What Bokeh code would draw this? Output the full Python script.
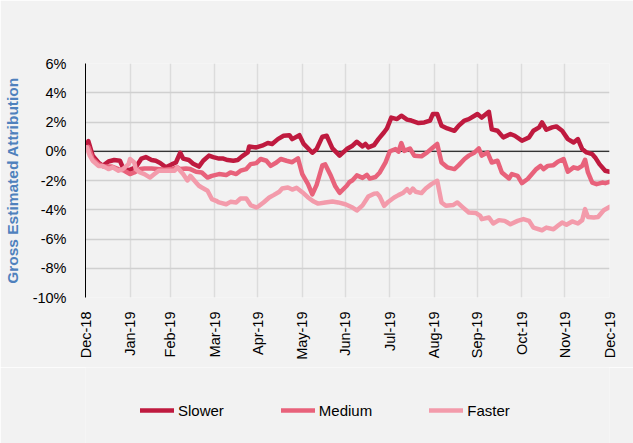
import pandas as pd
from bokeh.plotting import figure
from bokeh.layouts import column
from bokeh.models import (Range1d, FixedTicker, DatetimeTickFormatter,
                          PrintfTickFormatter, Span, Legend, LegendItem)
from bokeh.embed import file_html
from bokeh.resources import INLINE

# ---- data: gross estimated attribution (%) by speed bucket ----
SERIES_NAMES = ["Slower", "Medium", "Faster"]

slower_dates = [
    "2018-12-31", "2019-01-02", "2019-01-05", "2019-01-09", "2019-01-12", "2019-01-16",
    "2019-01-20", "2019-01-24", "2019-01-26", "2019-01-30", "2019-02-04", "2019-02-08",
    "2019-02-11", "2019-02-15", "2019-02-18", "2019-02-21", "2019-02-25", "2019-03-01",
    "2019-03-04", "2019-03-07", "2019-03-09", "2019-03-13", "2019-03-16", "2019-03-20",
    "2019-03-23", "2019-03-27", "2019-03-30", "2019-04-03", "2019-04-06", "2019-04-09",
    "2019-04-13", "2019-04-16", "2019-04-19", "2019-04-23", "2019-04-24", "2019-04-29",
    "2019-05-03", "2019-05-07", "2019-05-10", "2019-05-14", "2019-05-18", "2019-05-22",
    "2019-05-24", "2019-05-29", "2019-06-01", "2019-06-07", "2019-06-10", "2019-06-14",
    "2019-06-17", "2019-06-21", "2019-06-26", "2019-07-01", "2019-07-05", "2019-07-08",
    "2019-07-12", "2019-07-14", "2019-07-16", "2019-07-20", "2019-07-23", "2019-07-27",
    "2019-07-29", "2019-08-01", "2019-08-05", "2019-08-08", "2019-08-12", "2019-08-15",
    "2019-08-20", "2019-08-24", "2019-08-28", "2019-08-30", "2019-09-02", "2019-09-05",
    "2019-09-09", "2019-09-14", "2019-09-17", "2019-09-21", "2019-09-24", "2019-09-28",
    "2019-09-30", "2019-10-03", "2019-10-08", "2019-10-10", "2019-10-14", "2019-10-18",
    "2019-10-23", "2019-10-26", "2019-10-31", "2019-11-05", "2019-11-08", "2019-11-12",
    "2019-11-14", "2019-11-17", "2019-11-21", "2019-11-24", "2019-11-28", "2019-12-02",
    "2019-12-06", "2019-12-09", "2019-12-12", "2019-12-15", "2019-12-19", "2019-12-21",
    "2019-12-24", "2019-12-28", "2019-12-31",
]
slower_vals = [
    0.15, 0.70, -0.30, -0.77, -1.00, -0.70,
    -0.60, -0.65, -1.10, -1.30, -1.10, -0.50,
    -0.40, -0.60, -0.65, -0.80, -1.10, -0.90,
    -0.77, -0.10, -0.50, -0.60, -0.85, -1.05,
    -0.65, -0.30, -0.40, -0.50, -0.50, -0.60,
    -0.65, -0.60, -0.35, -0.08, 0.33, 0.26,
    0.38, 0.56, 0.50, 0.83, 1.06, 1.10,
    0.83, 1.10, 0.50, -0.10, 0.15, 1.00,
    1.06, 0.20, -0.30, 0.15, 0.38, 0.65,
    0.33, 0.50, 0.26, 0.42, 0.83, 1.30,
    1.56, 2.30, 2.20, 2.43, 2.16, 2.10,
    1.93, 1.97, 2.10, 2.55, 2.55, 1.75,
    1.56, 1.40, 1.75, 2.10, 2.20, 2.43,
    2.55, 2.30, 2.70, 1.50, 1.40, 0.95,
    1.18, 1.06, 0.72, 0.95, 1.40, 1.63,
    1.97, 1.47, 1.63, 1.70, 1.40, 0.83,
    0.60, 0.83, 0.15, -0.08, -0.20, -0.42,
    -0.88, -1.33, -1.40,
]

medium_dates = [
    "2018-12-31", "2019-01-02", "2019-01-05", "2019-01-09", "2019-01-13", "2019-01-18",
    "2019-01-23", "2019-01-27", "2019-01-31", "2019-02-03", "2019-02-07", "2019-02-10",
    "2019-02-15", "2019-02-19", "2019-02-24", "2019-03-01", "2019-03-05", "2019-03-07",
    "2019-03-11", "2019-03-14", "2019-03-18", "2019-03-22", "2019-03-26", "2019-03-29",
    "2019-04-03", "2019-04-08", "2019-04-11", "2019-04-15", "2019-04-18", "2019-04-22",
    "2019-04-25", "2019-04-29", "2019-05-02", "2019-05-06", "2019-05-09", "2019-05-13",
    "2019-05-16", "2019-05-20", "2019-05-24", "2019-05-28", "2019-05-31", "2019-06-04",
    "2019-06-07", "2019-06-10", "2019-06-14", "2019-06-16", "2019-06-20", "2019-06-23",
    "2019-06-26", "2019-07-01", "2019-07-03", "2019-07-05", "2019-07-08", "2019-07-12",
    "2019-07-15", "2019-07-17", "2019-07-21", "2019-07-24", "2019-07-28", "2019-07-31",
    "2019-08-04", "2019-08-06", "2019-08-08", "2019-08-10", "2019-08-14", "2019-08-17",
    "2019-08-22", "2019-08-26", "2019-08-30", "2019-09-02", "2019-09-05", "2019-09-09",
    "2019-09-14", "2019-09-17", "2019-09-21", "2019-09-24", "2019-09-28", "2019-10-01",
    "2019-10-03", "2019-10-07", "2019-10-10", "2019-10-14", "2019-10-17", "2019-10-22",
    "2019-10-24", "2019-10-28", "2019-10-31", "2019-11-04", "2019-11-07", "2019-11-10",
    "2019-11-13", "2019-11-15", "2019-11-18", "2019-11-22", "2019-11-25", "2019-11-29",
    "2019-12-02", "2019-12-06", "2019-12-09", "2019-12-12", "2019-12-14", "2019-12-16",
    "2019-12-19", "2019-12-22", "2019-12-26", "2019-12-28", "2019-12-31",
]
medium_vals = [
    0.10, 0.30, -0.53, -0.88, -1.04, -1.04,
    -1.22, -1.33, -1.56, -1.45, -1.22, -1.18,
    -1.18, -1.22, -1.27, -1.22, -1.10, -1.22,
    -1.18, -1.22, -1.40, -1.45, -1.80, -1.68,
    -1.56, -1.63, -1.45, -1.56, -1.33, -1.22,
    -0.88, -0.81, -0.53, -0.65, -1.00, -0.77,
    -0.53, -0.65, -0.75, -0.48, -1.56, -2.25,
    -2.95, -2.30, -0.97, -0.90, -1.70, -2.40,
    -2.84, -2.36, -2.10, -1.98, -1.65, -1.82,
    -1.62, -1.87, -1.76, -1.45, -0.76, 0.00,
    0.15, -0.03, 0.56, 0.03, 0.19, -0.30,
    -0.35, -0.08, 0.26, 0.50, -0.77, -1.10,
    -1.22, -0.95, -0.53, -0.30, -0.08, 0.19,
    -0.30, -0.08, -0.77, -0.65, -1.45, -1.86,
    -1.56, -1.68, -2.18, -1.90, -1.56, -1.22,
    -1.00, -1.22, -1.00, -0.95, -0.72, -0.53,
    -1.40, -1.10, -1.18, -1.00, -0.58, -1.45,
    -2.14, -2.25, -2.14, -2.18, -2.09,
]

faster_dates = [
    "2018-12-31", "2019-01-01", "2019-01-03", "2019-01-05", "2019-01-09", "2019-01-12",
    "2019-01-16", "2019-01-19", "2019-01-23", "2019-01-26", "2019-01-30", "2019-01-31",
    "2019-02-03", "2019-02-04", "2019-02-07", "2019-02-10", "2019-02-14", "2019-02-17",
    "2019-02-20", "2019-02-24", "2019-02-27", "2019-03-03", "2019-03-05", "2019-03-07",
    "2019-03-09", "2019-03-12", "2019-03-14", "2019-03-18", "2019-03-20", "2019-03-22",
    "2019-03-26", "2019-03-29", "2019-04-01", "2019-04-03", "2019-04-08", "2019-04-11",
    "2019-04-15", "2019-04-18", "2019-04-22", "2019-04-25", "2019-04-29", "2019-05-01",
    "2019-05-04", "2019-05-08", "2019-05-11", "2019-05-15", "2019-05-17", "2019-05-21",
    "2019-05-24", "2019-05-27", "2019-05-31", "2019-06-04", "2019-06-08", "2019-06-11",
    "2019-06-16", "2019-06-21", "2019-06-25", "2019-06-30", "2019-07-05", "2019-07-08",
    "2019-07-12", "2019-07-16", "2019-07-20", "2019-07-22", "2019-07-24", "2019-07-27",
    "2019-07-30", "2019-08-03", "2019-08-06", "2019-08-09", "2019-08-12", "2019-08-14",
    "2019-08-16", "2019-08-18", "2019-08-22", "2019-08-25", "2019-08-29", "2019-09-02",
    "2019-09-05", "2019-09-08", "2019-09-13", "2019-09-16", "2019-09-20", "2019-09-24",
    "2019-09-29", "2019-10-02", "2019-10-03", "2019-10-08", "2019-10-11", "2019-10-15",
    "2019-10-19", "2019-10-23", "2019-10-28", "2019-11-01", "2019-11-05", "2019-11-08",
    "2019-11-14", "2019-11-17", "2019-11-22", "2019-11-25", "2019-11-28", "2019-12-01",
    "2019-12-05", "2019-12-09", "2019-12-12", "2019-12-14", "2019-12-16", "2019-12-20",
    "2019-12-23", "2019-12-27", "2019-12-31",
]
faster_vals = [
    0.10, 0.26, -0.30, -0.65, -1.00, -1.00,
    -1.22, -1.10, -1.33, -1.22, -0.88, -0.53,
    -0.77, -1.22, -1.45, -1.56, -1.80, -1.56,
    -1.33, -1.33, -1.33, -1.33, -1.10, -1.33,
    -1.56, -2.00, -1.68, -2.14, -2.36, -2.48,
    -2.70, -3.27, -3.39, -3.50, -3.62, -3.46,
    -3.50, -3.23, -3.23, -3.68, -3.85, -3.73,
    -3.50, -3.16, -3.00, -2.77, -2.55, -2.48,
    -2.62, -2.50, -2.80, -3.16, -3.44, -3.58,
    -3.50, -3.44, -3.50, -3.62, -3.85, -4.05,
    -3.70, -3.10, -2.90, -2.88, -3.10, -3.73,
    -3.45, -3.16, -3.00, -2.86, -2.59, -2.82,
    -2.55, -2.77, -2.86, -2.55, -2.25, -2.02,
    -3.50, -3.73, -3.68, -3.50, -3.85, -4.19,
    -4.23, -4.42, -4.64, -4.53, -4.94, -4.71,
    -4.76, -4.99, -4.76, -4.64, -4.76, -5.22,
    -5.40, -5.22, -5.33, -5.10, -4.88, -5.03,
    -4.80, -4.94, -4.71, -3.96, -4.49, -4.53,
    -4.49, -4.03, -3.80,
]

# month-end ticks on the date axis, labelled like "Dec-18"
month_end_ticks = [
    "2018-12-31", "2019-01-31", "2019-02-28", "2019-03-31", "2019-04-30",
    "2019-05-31", "2019-06-30", "2019-07-31", "2019-08-31", "2019-09-30",
    "2019-10-31", "2019-11-30", "2019-12-31",
]
y_ticks = [-10, -8, -6, -4, -2, 0, 2, 4, 6]

# ---- styling ----
BG = "#F2F2F2"
COLORS = ["#BF1A3F", "#E8627B", "#F39BAB"]
FONT = "Liberation Sans"
WIDTH = 633
CHART_H = 367      # chart panel: plot frame plus the date labels
LEGEND_H = 76      # legend strip underneath
BORDER_L, BORDER_R = 82, 24


def to_ts(dates):
    return [pd.Timestamp(d) for d in dates]


def to_ms(dates):
    return [pd.Timestamp(d).value // 10**6 for d in dates]


p = figure(
    width=WIDTH, height=CHART_H,
    x_axis_type="datetime",
    x_range=Range1d(pd.Timestamp(month_end_ticks[0]), pd.Timestamp(month_end_ticks[-1])),
    y_range=Range1d(y_ticks[0], y_ticks[-1]),
    output_backend="svg", toolbar_location=None,
    background_fill_color=BG, border_fill_color=BG,
    min_border_left=BORDER_L, min_border_right=BORDER_R,
    min_border_top=63, min_border_bottom=CHART_H - 297,
)
p.outline_line_color = None

# axes
xa = p.xaxis[0]
xa.ticker = FixedTicker(ticks=to_ms(month_end_ticks))
xa.formatter = DatetimeTickFormatter(
    days="%b-%y", months="%b-%y", years="%b-%y", hours="%b-%y",
    hourmin="%b-%y", minutes="%b-%y", minsec="%b-%y", seconds="%b-%y",
    milliseconds="%b-%y", microseconds="%b-%y", context=None,
)
xa.major_label_orientation = 1.5707963267948966
xa.axis_line_color = None
xa.major_tick_line_color = None
xa.minor_tick_line_color = None
xa.major_label_standoff = 8
xa.major_label_text_font = FONT
xa.major_label_text_font_size = "14.5px"
xa.major_label_text_color = "#000000"

ya = p.yaxis[0]
ya.ticker = FixedTicker(ticks=y_ticks)
ya.formatter = PrintfTickFormatter(format="%d%%")
ya.axis_line_color = "#000000"
ya.axis_line_width = 1
ya.major_tick_line_color = None
ya.minor_tick_line_color = None
ya.major_label_standoff = 13
ya.major_label_text_font = FONT
ya.major_label_text_font_size = "14.5px"
ya.major_label_text_color = "#000000"
ya.axis_label = "Gross Estimated Attribution"
ya.axis_label_text_font = FONT
ya.axis_label_text_font_size = "15.5px"
ya.axis_label_text_font_style = "bold"
ya.axis_label_text_color = "#4F81BD"
ya.axis_label_standoff = 9

# gridlines
p.xgrid.grid_line_color = "#DCDCDC"
p.xgrid.grid_line_width = 1.5
p.ygrid.grid_line_color = "#D0D0D0"
p.ygrid.grid_line_width = 1.5

# zero line
p.add_layout(Span(location=0, dimension="width", line_color="#000000",
                  line_width=1, level="underlay"))

# series
for dates, vals, color in zip(
        [slower_dates, medium_dates, faster_dates],
        [slower_vals, medium_vals, faster_vals],
        COLORS):
    p.line(to_ts(dates), vals, line_color=color, line_width=4.5,
           line_join="round", line_cap="round")

# legend strip; its frame lines up with the chart frame above, and the
# swatch renderers sit outside the strip's visible range so only the
# legend entries show
lg = figure(
    width=WIDTH, height=LEGEND_H,
    x_range=Range1d(0, 1), y_range=Range1d(0, 1),
    output_backend="svg", toolbar_location=None,
    background_fill_color=BG, border_fill_color=BG,
    min_border_left=BORDER_L, min_border_right=BORDER_R,
    min_border_top=0, min_border_bottom=0,
)
lg.outline_line_color = None
lg.axis.visible = False
lg.grid.visible = False
swatches = [lg.line(x=[-2, -1], y=[-2, -1], line_color=c, line_width=4.5, line_cap="round")
            for c in COLORS]
legend = Legend(
    items=[LegendItem(label=n, renderers=[r]) for n, r in zip(SERIES_NAMES, swatches)],
    orientation="horizontal",
    location=(137 - BORDER_L, LEGEND_H - 53),
    padding=0, margin=0, spacing=57,
    glyph_width=34, glyph_height=20, label_standoff=4,
    label_text_font=FONT, label_text_font_size="15px", label_text_color="#000000",
    border_line_color=None, background_fill_alpha=0,
)
lg.add_layout(legend, "center")

layout = column(p, lg, spacing=0)
open("out.html", "w").write(file_html(layout, INLINE))
